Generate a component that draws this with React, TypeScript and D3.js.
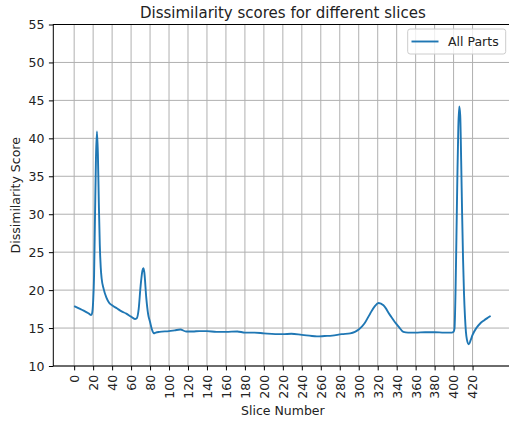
import React, { useRef, useEffect } from 'react';
import * as d3 from 'd3';

// Values
const sliceNumbers = [
  0, 5, 10, 15, 18, 19, 20, 21, 22, 23, 24, 25, 26, 27, 28, 29, 31, 34, 37, 40, 45, 50, 55, 60, 64, 66,
  68, 70, 72, 73, 74, 76, 78, 80, 82, 84, 86, 90, 100, 106, 112, 118, 125, 132, 140, 150, 160, 172, 180,
  190, 200, 212, 220, 229, 240, 248, 256, 264, 272, 282, 291, 296, 300, 306, 312, 317, 321, 326, 333,
  338, 342, 347, 352, 360, 370, 380, 390, 398, 400, 401, 402, 403, 404, 405, 406, 407, 408, 409, 410,
  411, 412, 413, 414, 416, 418, 420, 424, 428, 432, 436, 439,
];
const scores = [
  17.9, 17.6, 17.3, 16.95, 16.7, 17.0, 18.5, 22.0, 30.0, 37.5, 40.9, 38.0, 31.5, 26.0, 23.0, 21.5, 20.2,
  19.0, 18.3, 18.0, 17.6, 17.2, 16.9, 16.5, 16.2, 16.3, 17.5, 20.5, 22.6, 22.9, 22.3, 19.0, 16.8, 15.8,
  14.8, 14.3, 14.4, 14.5, 14.6, 14.7, 14.8, 14.55, 14.55, 14.6, 14.6, 14.5, 14.5, 14.55, 14.4, 14.4,
  14.3, 14.2, 14.2, 14.25, 14.1, 14.0, 13.9, 13.95, 14.0, 14.2, 14.3, 14.5, 14.8, 15.6, 16.9, 17.9,
  18.3, 18.0, 16.7, 15.8, 15.2, 14.5, 14.4, 14.4, 14.45, 14.45, 14.4, 14.4, 14.5, 15.0, 19.5, 27.0,
  35.0, 41.5, 44.2, 43.0, 37.0, 30.0, 24.0, 19.5, 16.5, 14.5, 13.5, 12.85, 13.4, 14.1, 15.0, 15.6,
  16.0, 16.35, 16.6,
];
const xTicks = d3.range(0, 421, 20);
const yTicks = d3.range(10, 56, 5);
const seriesName = 'All Parts';

const App = () => {
  const chartRef = useRef<SVGSVGElement>(null);

  useEffect(() => {
    const width = 509;
    const height = 421;
    const svg = d3.select(chartRef.current);
    svg.selectAll('*').remove();

    const left = 53.3, right = 512.4, top = 24.5, bottom = 366;
    const font = 'DejaVu Sans, sans-serif';
    const fs = 12.5;

    const x = d3.scaleLinear().domain([-22, 462]).range([left, right]);
    const y = d3.scaleLinear().domain([10, 55]).range([bottom, top]);

    svg.append('rect').attr('width', width).attr('height', height).attr('fill', '#fff');

    // grid
    const grid = svg.append('g').attr('stroke', '#b0b0b0').attr('stroke-width', 1);
    grid.selectAll('.gx').data(xTicks).enter().append('line')
      .attr('x1', d => x(d)).attr('x2', d => x(d)).attr('y1', top).attr('y2', bottom);
    grid.selectAll('.gy').data(yTicks).enter().append('line')
      .attr('x1', left).attr('x2', right).attr('y1', d => y(d)).attr('y2', d => y(d));

    // line
    const points = sliceNumbers.map((s, i) => [s, scores[i]] as [number, number]);
    const line = d3.line<[number, number]>()
      .x(d => x(d[0]))
      .y(d => y(d[1]))
      .curve(d3.curveMonotoneX);
    svg.append('path')
      .datum(points)
      .attr('fill', 'none')
      .attr('stroke', '#1f77b4')
      .attr('stroke-width', 1.9)
      .attr('stroke-linejoin', 'round')
      .attr('d', line);

    // spines
    svg.append('rect')
      .attr('x', left).attr('y', top)
      .attr('width', right - left).attr('height', bottom - top)
      .attr('fill', 'none').attr('stroke', '#000').attr('stroke-width', 1);

    // y axis
    const yAxis = svg.append('g')
      .attr('transform', `translate(${left},0)`)
      .call(d3.axisLeft(y).tickValues(yTicks).tickSize(4.4).tickPadding(4.4));
    yAxis.select('.domain').remove();
    yAxis.selectAll('text').attr('font-family', font).attr('font-size', fs).attr('fill', '#222');

    // x axis
    const xAxis = svg.append('g')
      .attr('transform', `translate(0,${bottom})`)
      .call(d3.axisBottom(x).tickValues(xTicks).tickSize(4.4).tickPadding(4.4));
    xAxis.select('.domain').remove();
    xAxis.selectAll('text')
      .attr('font-family', font).attr('font-size', fs).attr('fill', '#222')
      .attr('transform', 'rotate(-90)')
      .attr('text-anchor', 'end')
      .attr('x', -8.8)
      .attr('y', 0)
      .attr('dy', '0.35em');

    // title and labels
    svg.append('text')
      .attr('x', (left + right) / 2).attr('y', 18.3)
      .attr('text-anchor', 'middle')
      .attr('font-family', font).attr('font-size', 15).attr('fill', '#222')
      .text('Dissimilarity scores for different slices');
    svg.append('text')
      .attr('x', (left + right) / 2).attr('y', 414.5)
      .attr('text-anchor', 'middle')
      .attr('font-family', font).attr('font-size', fs).attr('fill', '#222')
      .text('Slice Number');
    svg.append('text')
      .attr('transform', `translate(19.5,${(top + bottom) / 2}) rotate(-90)`)
      .attr('text-anchor', 'middle')
      .attr('font-family', font).attr('font-size', fs).attr('fill', '#222')
      .text('Dissimilarity Score');

    // legend
    const lg = svg.append('g');
    lg.append('rect')
      .attr('x', 407.7).attr('y', 29).attr('width', 98).attr('height', 25).attr('rx', 2.5)
      .attr('fill', 'rgba(255,255,255,0.8)').attr('stroke', '#cccccc').attr('stroke-width', 1);
    lg.append('line')
      .attr('x1', 411.5).attr('x2', 438.5).attr('y1', 41.5).attr('y2', 41.5)
      .attr('stroke', '#1f77b4').attr('stroke-width', 1.9);
    lg.append('text')
      .attr('x', 448).attr('y', 46)
      .attr('font-family', font).attr('font-size', fs).attr('fill', '#222')
      .text(seriesName);
  }, []);

  return (
    <div style={{ position: 'absolute', left: 0, top: 0 }}>
      <svg ref={chartRef} width={509} height={421} style={{ display: 'block' }}></svg>
    </div>
  );
};

export default App;
